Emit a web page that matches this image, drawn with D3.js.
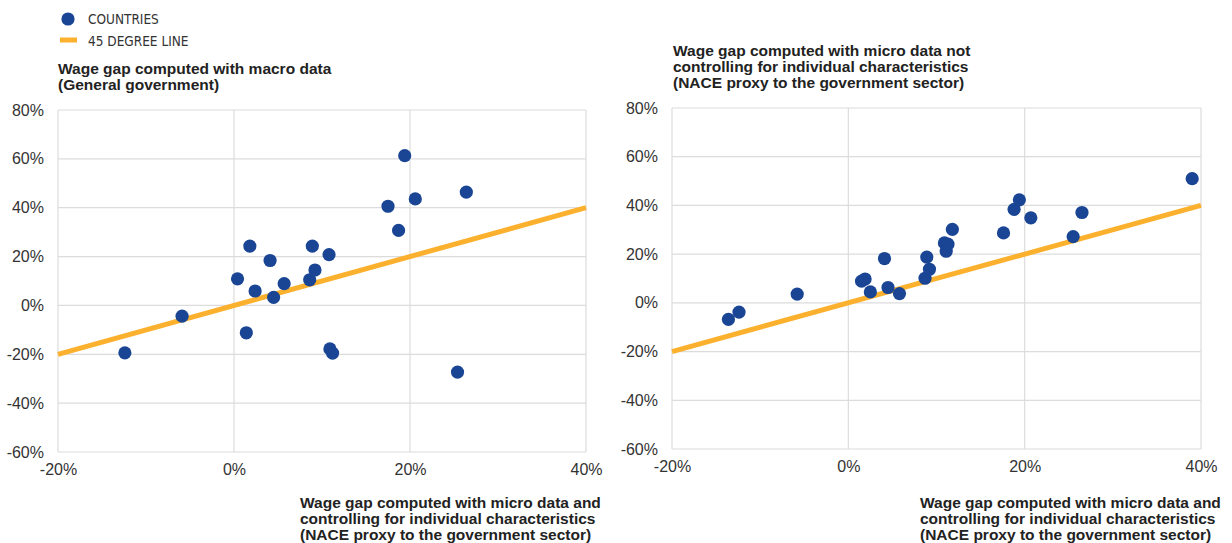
<!DOCTYPE html>
<html><head><meta charset="utf-8">
<script src="https://cdn.jsdelivr.net/npm/d3@7"></script>
<style>
body{margin:0;background:#fff;}
svg{display:block;font-family:"Liberation Sans",Arial,sans-serif;}
.tick text{fill:#333;font-size:16px;}
.ttl{fill:#222;font-size:15.5px;font-weight:bold;}
.leg{fill:#333;font-size:13.5px;font-family:"Liberation Sans Narrow","DejaVu Sans Condensed",sans-serif;}
</style></head><body>
<script>
// Data
const xTicks = [-20, 0, 20, 40];
const yTicks = [-60, -40, -20, 0, 20, 40, 60, 80];
const legendLabels = ["COUNTRIES", "45 DEGREE LINE"];
const leftX = [-12.4,-5.9,0.4,1.8,1.4,2.4,4.1,4.5,5.7,8.6,8.9,9.2,10.8,10.9,11.2,17.5,18.7,19.4,20.6,26.4,25.4];
const leftY = [-19.4,-4.4,10.9,24.3,-11.2,5.9,18.4,3.3,8.9,10.5,24.3,14.5,20.8,-17.8,-19.5,40.6,30.7,61.3,43.6,46.4,-27.3];
const rightX = [-13.6,-12.4,-5.8,1.5,1.9,2.5,4.1,4.5,5.8,8.7,8.9,9.2,10.9,11.3,11.1,11.8,17.6,18.8,19.4,20.7,25.5,26.5,39.0];
const rightY = [-6.8,-3.8,3.6,8.9,9.8,4.5,18.2,6.3,3.8,10.1,18.8,13.8,24.6,24.1,21.2,30.2,28.7,38.4,42.3,34.9,27.2,37.1,51.0];
const line45 = [-20, 40];
const leftYTitle = ["Wage gap computed with macro data", "(General government)"];
const rightYTitle = ["Wage gap computed with micro data not", "controlling for individual characteristics", "(NACE proxy to the government sector)"];
const xTitle = ["Wage gap computed with micro data and", "controlling for individual characteristics", "(NACE proxy to the government sector)"];

const BLUE = "#1a4594", ORANGE = "#fbb12e", GRID = "#dcdcdc";
const svg = d3.select("body").append("svg").attr("width",1232).attr("height",543);

function panel(cfg){
  const x = d3.scaleLinear().domain([-20,40]).range(cfg.xr);
  const y = d3.scaleLinear().domain([-60,80]).range(cfg.yr);
  const g = svg.append("g");
  g.selectAll(".hg").data(yTicks).join("line")
    .attr("x1",x(-20)).attr("x2",x(40)).attr("y1",d=>y(d)).attr("y2",d=>y(d))
    .attr("stroke",GRID).attr("stroke-width",1.2);
  g.selectAll(".vg").data(xTicks).join("line")
    .attr("y1",y(-60)).attr("y2",y(80)).attr("x1",d=>x(d)).attr("x2",d=>x(d))
    .attr("stroke",GRID).attr("stroke-width",1.2);
  const ya = g.append("g").attr("transform",`translate(${x(-20)},0)`)
    .call(d3.axisLeft(y).tickValues(yTicks).tickSize(0).tickPadding(14).tickFormat(d=>d+"%"));
  ya.select(".domain").remove();
  const xa = g.append("g").attr("transform",`translate(0,${y(-60)})`)
    .call(d3.axisBottom(x).tickValues(xTicks).tickSize(0).tickPadding(12).tickFormat(d=>d+"%"));
  xa.select(".domain").remove();
  g.append("line").attr("x1",x(line45[0])).attr("y1",y(line45[0])).attr("x2",x(line45[1])).attr("y2",y(line45[1]))
    .attr("stroke",ORANGE).attr("stroke-width",5);
  g.selectAll(".pt").data(cfg.xs.map((v,i)=>[v,cfg.ys[i]])).join("circle")
    .attr("cx",d=>x(d[0])).attr("cy",d=>y(d[1])).attr("r",6.6).attr("fill",BLUE);
  const t = g.append("text").attr("class","ttl").attr("x",cfg.tx).attr("y",cfg.ty);
  cfg.title.forEach((s,i)=>t.append("tspan").attr("x",cfg.tx).attr("dy",i?16:0).text(s));
  const xt = g.append("text").attr("class","ttl").attr("x",cfg.xtx).attr("y",cfg.xty);
  xTitle.forEach((s,i)=>xt.append("tspan").attr("x",cfg.xtx).attr("dy",i?16:0).text(s));
}

panel({xr:[58,586], yr:[452,110], xs:leftX, ys:leftY, title:leftYTitle, tx:58, ty:74, xtx:300, xty:508});
panel({xr:[672,1201], yr:[449,108], xs:rightX, ys:rightY, title:rightYTitle, tx:673, ty:56, xtx:920, xty:508});

svg.append("circle").attr("cx",68).attr("cy",19).attr("r",6.6).attr("fill",BLUE);
svg.append("rect").attr("x",60).attr("y",37.5).attr("width",17).attr("height",5).attr("fill",ORANGE);
svg.selectAll(".legt").data(legendLabels).join("text").attr("class","leg")
  .attr("x",88).attr("y",(d,i)=>19+i*22).attr("dy","0.35em").text(d=>d);
</script></body></html>
